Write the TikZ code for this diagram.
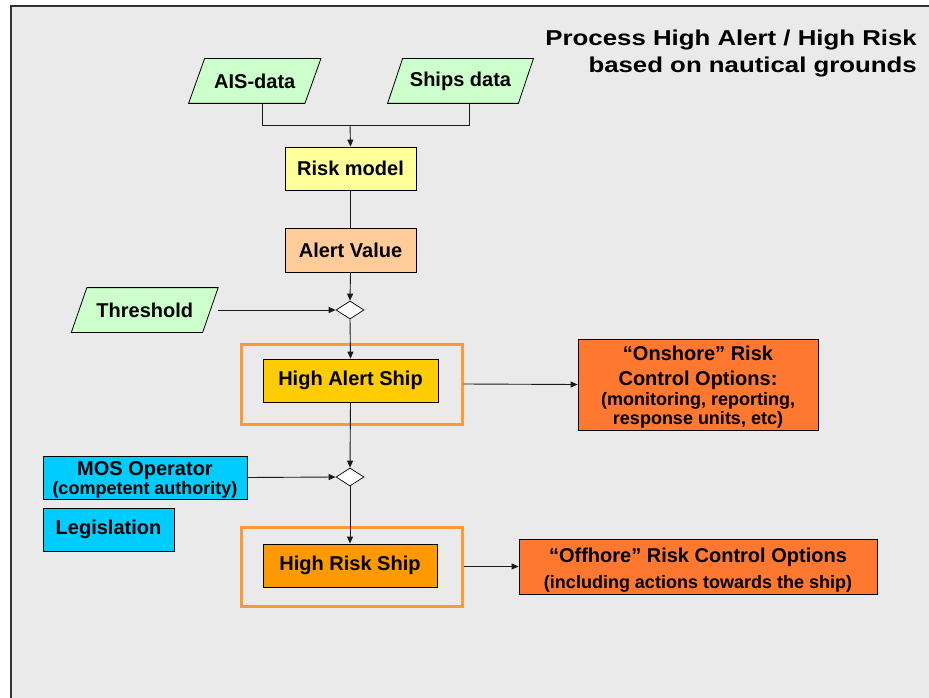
\documentclass[tikz,border=0pt]{standalone}
\usepackage{fontspec}
\setmainfont{Liberation Sans}
\newfontfamily\titlefont[FakeStretch=1.2]{Liberation Sans}
\usetikzlibrary{shapes.geometric,arrows.meta}

\definecolor{pagebg}{HTML}{EAEAEA}
\definecolor{framec}{HTML}{333333}
\definecolor{datagreen}{HTML}{CCFFCC}
\definecolor{modelyellow}{HTML}{FFFF99}
\definecolor{valuepeach}{HTML}{FFCC99}
\definecolor{alertgold}{HTML}{FFCC00}
\definecolor{riskamber}{HTML}{FF9900}
\definecolor{actorcyan}{HTML}{00CCFF}
\definecolor{optionorange}{HTML}{FF7830}
\definecolor{grouporange}{HTML}{FF9933}
\definecolor{linec}{HTML}{1A1A1A}

\pgfdeclarelayer{panel}
\pgfdeclarelayer{shapes}
\pgfsetlayers{panel,shapes,main}

\tikzset{
  box/.style={draw=black, line width=0.8pt, inner sep=0pt, align=center,
    font=\fontsize{20}{24}\selectfont\bfseries},
  % text holder of an input; its slanted outline is drawn on the shapes layer
  databox/.style={box, draw=none, minimum height=44pt},
  dataoutline/.style={draw=black, line width=0.8pt, fill=datagreen},
  groupbox/.style={draw=grouporange, line width=3pt, inner sep=0pt},
  decision/.style={diamond, draw=black, line width=0.7pt, fill=white, inner sep=0pt,
    minimum width=28pt, minimum height=18pt},
  link/.style={draw=linec, line width=0.9pt},
  flow/.style={link, -{Triangle[length=7pt,width=6pt]}},
  titletext/.style={inner sep=0pt, font=\titlefont\fontsize{21.5}{24}\selectfont\bfseries},
}
% small-print line inside a box
\newcommand{\smallline}[1]{{\fontsize{18}{19}\selectfont #1}}

\begin{document}
\begin{tikzpicture}[x=1pt,y=-1pt]
  \useasboundingbox (0,0) rectangle (929,698);
  \begin{pgfonlayer}{panel}
    \fill[white] (0,0) rectangle (929,698);
    \draw[framec, line width=2pt, fill=pagebg] (11,6) rectangle (945,715);
  \end{pgfonlayer}

  % heading
  \node[titletext, anchor=base east] (title1) at (917,46) {Process High Alert / High Risk};
  \node[titletext, anchor=base east] (title2) at (917,73) {based on nautical grounds};

  % groupings around the ship states
  \node[groupbox, minimum width=221pt, minimum height=80pt] (g1) at (351.5,384) {};
  \node[groupbox, minimum width=221pt, minimum height=79pt] (g2) at (351.5,566.5) {};

  % inputs
  \node[databox, minimum width=115.5pt] (ais) at (254.75,81) {AIS-data};
  \node[databox, minimum width=130pt] (ships) at (460.5,81) {Ships data};
  \node[databox, minimum width=130.5pt] (thr) at (144.75,310) {Threshold};
  \begin{pgfonlayer}{shapes}
    \foreach \n/\s in {ais/8pt, ships/7.5pt, thr/7.75pt}
      \draw[dataoutline] ([xshift=-\s]\n.south west) -- ([xshift=-\s]\n.south east)
        -- ([xshift=\s]\n.north east) -- ([xshift=\s]\n.north west) -- cycle;
  \end{pgfonlayer}

  % process steps
  \node[box, fill=modelyellow, minimum width=131pt, minimum height=43pt] (risk) at (350.5,168.5) {Risk model};
  \node[box, fill=valuepeach, minimum width=131pt, minimum height=44pt] (alert) at (350.5,250) {Alert Value};
  \node[decision] (d1) at (350,310) {};
  \node[box, fill=alertgold, minimum width=175pt, minimum height=43pt] (has) at (350.5,380.5) {High Alert Ship};
  \node[decision] (d2) at (350,477) {};
  \node[box, fill=riskamber, minimum width=174pt, minimum height=43pt] (hrs) at (350,565.5) {High Risk Ship};

  % actors
  \node[box, fill=actorcyan, minimum width=204pt, minimum height=43pt] (mos) at (145,477.5)
    {\rule{0pt}{19pt}MOS Operator\\[-5pt]\smallline{(competent authority)}};
  \node[box, fill=actorcyan, minimum width=131pt, minimum height=43pt] (leg) at (108.5,529.5) {Legislation};

  % risk control options
  \node[box, fill=optionorange, minimum width=240pt, minimum height=91pt] (onshore) at (698,384.5)
    {\rule{0pt}{20pt}“Onshore” Risk\\[1pt]Control Options:\\[-4pt]\smallline{(monitoring, reporting,}\\[-5pt]\smallline{response units, etc)}};
  \node[box, fill=optionorange, minimum width=358pt, minimum height=55pt] (offshore) at (698,566.5)
    {\rule{0pt}{22pt}“Offhore” Risk Control Options\\[2pt]\smallline{(including actions towards the ship)}};

  % connectors
  \coordinate (join) at (350,125);
  \draw[link] ([xshift=7.5pt]ais.south) |- (join);
  \draw[link] ([xshift=8.5pt]ships.south) |- (join);
  \draw[flow] (join) -- (risk.north);
  \draw[link] (risk.south) -- (alert.north);
  \draw[flow] (alert.south) -- (d1.north);
  \draw[flow] ([xshift=8pt]thr.east) -- (d1.west);
  \draw[flow] (d1.south) -- (has.north);
  \draw[flow] (g1.east) -- (onshore.west);
  \draw[flow] (has.south) -- (d2.north);
  \draw[flow] (mos.east) -- (d2.west);
  \draw[flow] (d2.south) -- (hrs.north);
  \draw[flow] (g2.east) -- (offshore.west);
\end{tikzpicture}
\end{document}
